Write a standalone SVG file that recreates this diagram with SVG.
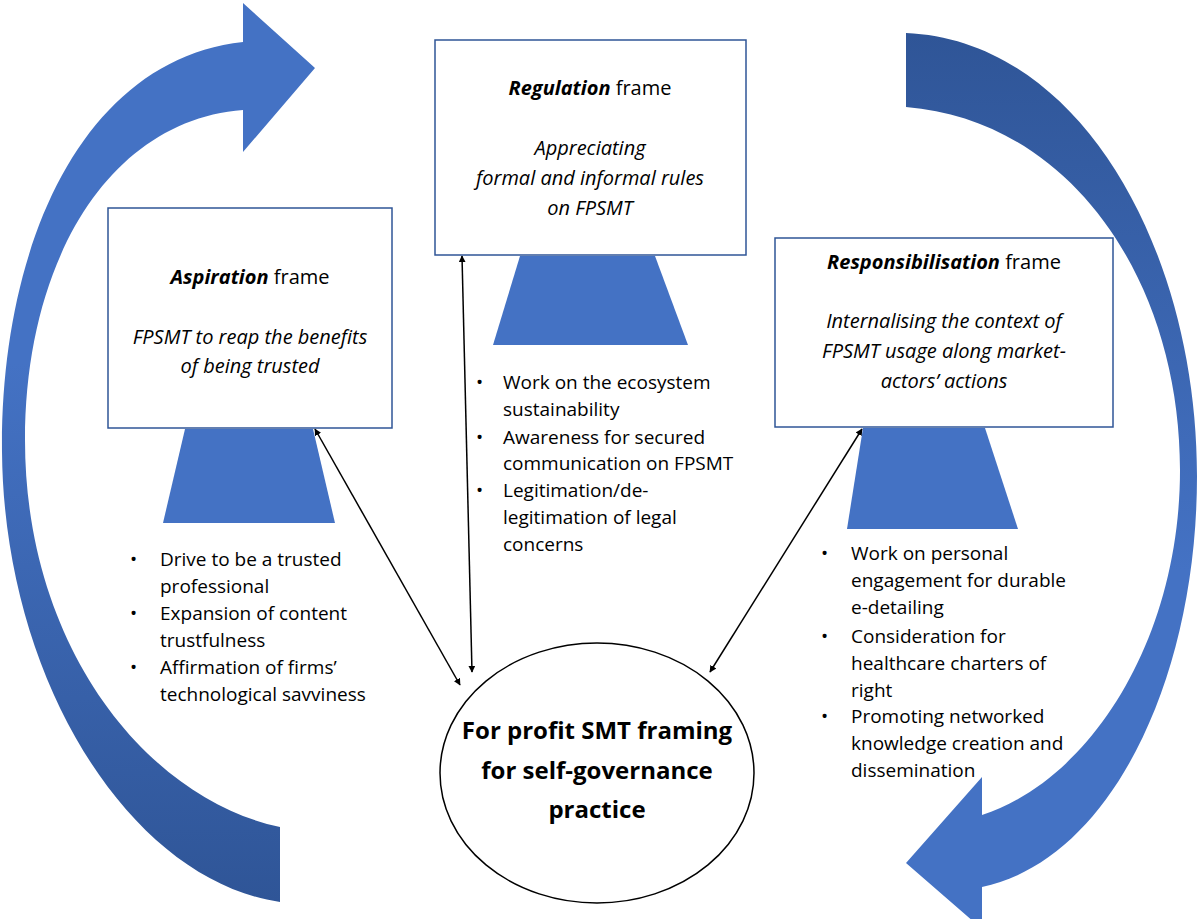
<svg xmlns="http://www.w3.org/2000/svg" width="1200" height="919" viewBox="0 0 1200 919">
<style>
.box{fill:#fff;stroke:#2F5597;stroke-width:1.5}
.trap{fill:#4472C4}
.t{font-family:"Open Sans","Liberation Sans",sans-serif;font-size:19px;fill:#000}
.h{font-size:20px}
.c{text-anchor:middle}
.i{font-style:italic}
.b{font-weight:bold}
.con{stroke:#000;stroke-width:1.5;fill:none;marker-start:url(#ah);marker-end:url(#ah)}
</style>
<defs>
<marker id="ah" viewBox="0 0 10 10" refX="9" refY="5" markerWidth="7" markerHeight="7" orient="auto-start-reverse" markerUnits="userSpaceOnUse"><path d="M0,0 L10,5 L0,10 z" fill="#000"/></marker>
<linearGradient id="gl" x1="0" y1="0" x2="0" y2="1"><stop offset="0.4" stop-color="#4472C4"/><stop offset="1" stop-color="#2F5597"/></linearGradient>
<linearGradient id="gr" x1="0" y1="1" x2="0" y2="0"><stop offset="0.4" stop-color="#4472C4"/><stop offset="1" stop-color="#2F5597"/></linearGradient>
</defs>
<g id="arrow-left"><path fill="url(#gl)" d="M243,42 L243,3 L315,68 L243,152 L243,110 C110,120 25,260 25,440 C25,650 150,800 280,827 L280,902 C130,880 4,680 2,452 C0,250 80,60 243,42 Z"/></g>
<g id="arrow-right"><path fill="url(#gr)" d="M906,33 C1080,40 1197,250 1197,476 C1197,680 1110,860 982,887 L982,929 L906,863 L982,777 L982,815 C1090,780 1180,640 1180,470 C1180,280 1070,120 906,107 Z"/></g>
<g id="connectors">
<line class="con" x1="460" y1="685" x2="315" y2="429"/>
<line class="con" x1="472" y1="672" x2="462" y2="256"/>
<line class="con" x1="710" y1="672" x2="862" y2="429"/>
</g>
<g id="aspiration">
<rect class="box" x="108" y="208" width="284" height="220"/>
<polygon class="trap" points="185,429 313,429 335,523 163,523"/>
<text class="t h c" x="250" y="284"><tspan class="b i">Aspiration</tspan> frame</text>
<text class="t h c i" x="250" y="344">FPSMT to reap the benefits</text>
<text class="t h c i" x="250" y="373">of being trusted</text>
<g class="t">
<text x="130" y="566">•</text><text x="160" y="566">Drive to be a trusted</text>
<text x="160" y="593">professional</text>
<text x="130" y="620">•</text><text x="160" y="620">Expansion of content</text>
<text x="160" y="647">trustfulness</text>
<text x="130" y="674">•</text><text x="160" y="674">Affirmation of firms’</text>
<text x="160" y="701">technological savviness</text>
</g>
</g>
<g id="regulation">
<rect class="box" x="435" y="40" width="311" height="215"/>
<polygon class="trap" points="520,256 655,256 688,345 493,345"/>
<text class="t h c" x="590" y="95"><tspan class="b i">Regulation</tspan> frame</text>
<text class="t h c i" x="590" y="155">Appreciating</text>
<text class="t h c i" x="590" y="185">formal and informal rules</text>
<text class="t h c i" x="590" y="215">on FPSMT</text>
<g class="t">
<text x="476" y="389">•</text><text x="503" y="389">Work on the ecosystem</text>
<text x="503" y="416">sustainability</text>
<text x="476" y="444">•</text><text x="503" y="444">Awareness for secured</text>
<text x="503" y="470">communication on FPSMT</text>
<text x="476" y="497">•</text><text x="503" y="497">Legitimation/de-</text>
<text x="503" y="524">legitimation of legal</text>
<text x="503" y="551">concerns</text>
</g>
</g>
<g id="responsibilisation">
<rect class="box" x="775" y="238" width="338" height="189"/>
<polygon class="trap" points="863,428 985,428 1018,529 847,529"/>
<text class="t h c" x="944" y="269"><tspan class="b i">Responsibilisation</tspan> frame</text>
<text class="t h c i" x="944" y="328">Internalising the context of</text>
<text class="t h c i" x="944" y="358">FPSMT usage along market-</text>
<text class="t h c i" x="944" y="388">actors’ actions</text>
<g class="t">
<text x="821" y="560">•</text><text x="851" y="560">Work on personal</text>
<text x="851" y="587">engagement for durable</text>
<text x="851" y="614">e-detailing</text>
<text x="821" y="643">•</text><text x="851" y="643">Consideration for</text>
<text x="851" y="670">healthcare charters of</text>
<text x="851" y="697">right</text>
<text x="821" y="723">•</text><text x="851" y="723">Promoting networked</text>
<text x="851" y="750">knowledge creation and</text>
<text x="851" y="777">dissemination</text>
</g>
</g>
<g id="center">
<ellipse cx="597" cy="773" rx="157" ry="130" fill="#fff" stroke="#000" stroke-width="1.5"/>
<text class="t c b" style="font-size:24px" x="597" y="739">For profit SMT framing</text>
<text class="t c b" style="font-size:24px" x="597" y="779">for self-governance</text>
<text class="t c b" style="font-size:24px" x="597" y="818">practice</text>
</g>
</svg>
